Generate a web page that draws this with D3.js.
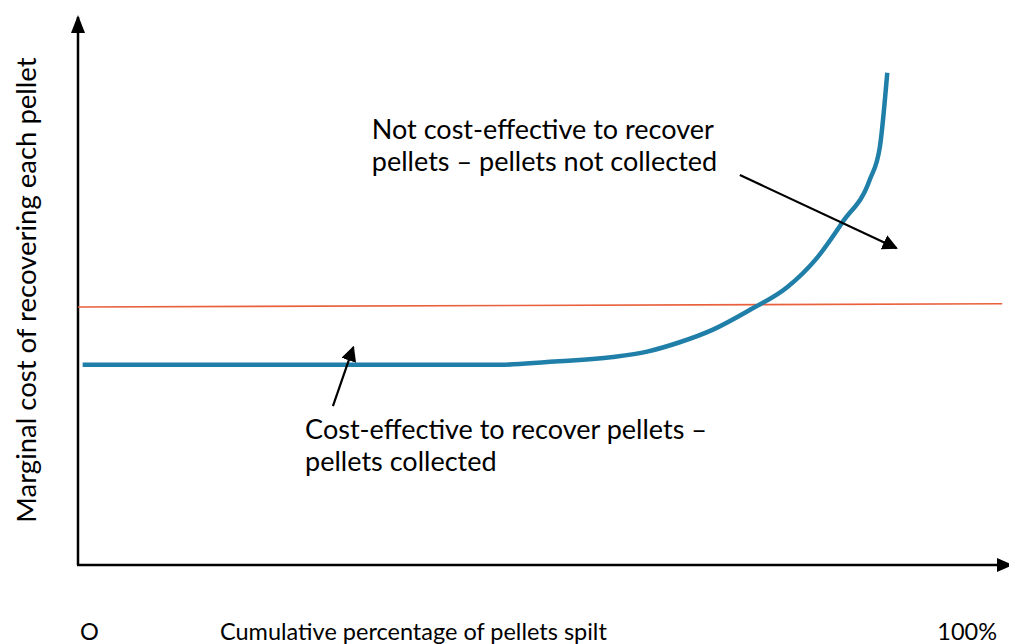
<!DOCTYPE html>
<html>
<head>
<meta charset="utf-8">
<script src="https://cdn.jsdelivr.net/npm/d3@7"></script>
<style>
  body { margin: 0; background: #fff; }
  text { font-family: Lato, "Noto Sans", sans-serif; fill: #000; }
</style>
</head>
<body>
<svg id="chart"></svg>
<script>
// curve of marginal cost (x = % of pellets spilt, y = cost, both 0-100)
const costX = [0.5, 45.5, 50.6, 57.7, 61.4, 64.9, 68.5, 72.5, 76.5, 79.7, 82.5, 85.4, 86.5, 87.3];
const costY = [36.4, 36.4, 36.9, 37.8, 38.8, 40.5, 42.8, 46.4, 50.5, 55.8, 62.4, 70, 76, 89.5];

// marginal benefit (red line)
const benefitX = [0, 99.7];
const benefitY = [46.9, 47.5];

// annotation arrows [x1, y1, x2, y2]
const arrows = [
  [71.4, 70.9, 88.3, 57.6],
  [27.5, 28.9, 29.7, 39.6]
];
const notes = [
  { x: 31.7, y: 77.4, lines: ["Not cost-effective to recover", "pellets \u2013 pellets not collected"] },
  { x: 24.5, y: 22.9, lines: ["Cost-effective to recover pellets \u2013", "pellets collected"] }
];

const W = 1009, H = 644;
const svg = d3.select("#chart").attr("width", W).attr("height", H);

const x = d3.scaleLinear().domain([0, 100]).range([78, 1005]);
const y = d3.scaleLinear().domain([0, 100]).range([565, 15]);

svg.append("defs").append("marker")
  .attr("id", "head")
  .attr("viewBox", "0 0 10 10")
  .attr("refX", 9).attr("refY", 5)
  .attr("markerWidth", 7).attr("markerHeight", 7)
  .attr("markerUnits", "strokeWidth")
  .attr("orient", "auto")
  .append("path").attr("d", "M0,0 L10,5 L0,10 Z").attr("fill", "#000");

// axes
svg.append("line")
  .attr("x1", x(0)).attr("y1", y(0)).attr("x2", x(0)).attr("y2", y(100) + 2)
  .attr("stroke", "#000").attr("stroke-width", 2.5);
svg.append("path")
  .attr("d", `M${x(0) - 7},${y(100) + 18} L${x(0)},${y(100)} L${x(0) + 7},${y(100) + 18} Z`)
  .attr("fill", "#000");
svg.append("line")
  .attr("x1", x(0) - 1).attr("y1", y(0)).attr("x2", x(100) + 2).attr("y2", y(0))
  .attr("stroke", "#000").attr("stroke-width", 2.5);
svg.append("path")
  .attr("d", `M${x(100) - 8},${y(0) - 7} L${x(100) + 8},${y(0)} L${x(100) - 8},${y(0) + 7} Z`)
  .attr("fill", "#000");

// red line
svg.append("path")
  .datum(d3.zip(benefitX, benefitY))
  .attr("fill", "none")
  .attr("stroke", "#e8603c")
  .attr("stroke-width", 1.6)
  .attr("d", d3.line().x(d => x(d[0])).y(d => y(d[1])));

// blue curve
svg.append("path")
  .datum(d3.zip(costX, costY))
  .attr("fill", "none")
  .attr("stroke", "#1f7fa8")
  .attr("stroke-width", 4.5)
  .attr("d", d3.line().x(d => x(d[0])).y(d => y(d[1])).curve(d3.curveMonotoneX));

// arrows
arrows.forEach(a => {
  svg.append("line")
    .attr("x1", x(a[0])).attr("y1", y(a[1]))
    .attr("x2", x(a[2])).attr("y2", y(a[3]))
    .attr("stroke", "#000").attr("stroke-width", 2.2)
    .attr("marker-end", "url(#head)");
});

// notes
notes.forEach(n => {
  n.lines.forEach((t, i) => {
    svg.append("text")
      .attr("x", x(n.x)).attr("y", y(n.y) + i * 32)
      .attr("font-size", 27)
      .text(t);
  });
});

// axis labels
svg.append("text")
  .attr("transform", `translate(36, ${(y(100) + y(0)) / 2}) rotate(-90)`)
  .attr("text-anchor", "middle")
  .attr("font-size", 27.5)
  .text("Marginal cost of recovering each pellet");

svg.append("text").attr("x", 80).attr("y", 640).attr("font-size", 23.5).text("O");
svg.append("text").attr("x", 220).attr("y", 640).attr("font-size", 23.5).text("Cumulative percentage of pellets spilt");
svg.append("text").attr("x", 997).attr("y", 640).attr("text-anchor", "end").attr("font-size", 23.5).text("100%");
</script>
</body>
</html>
